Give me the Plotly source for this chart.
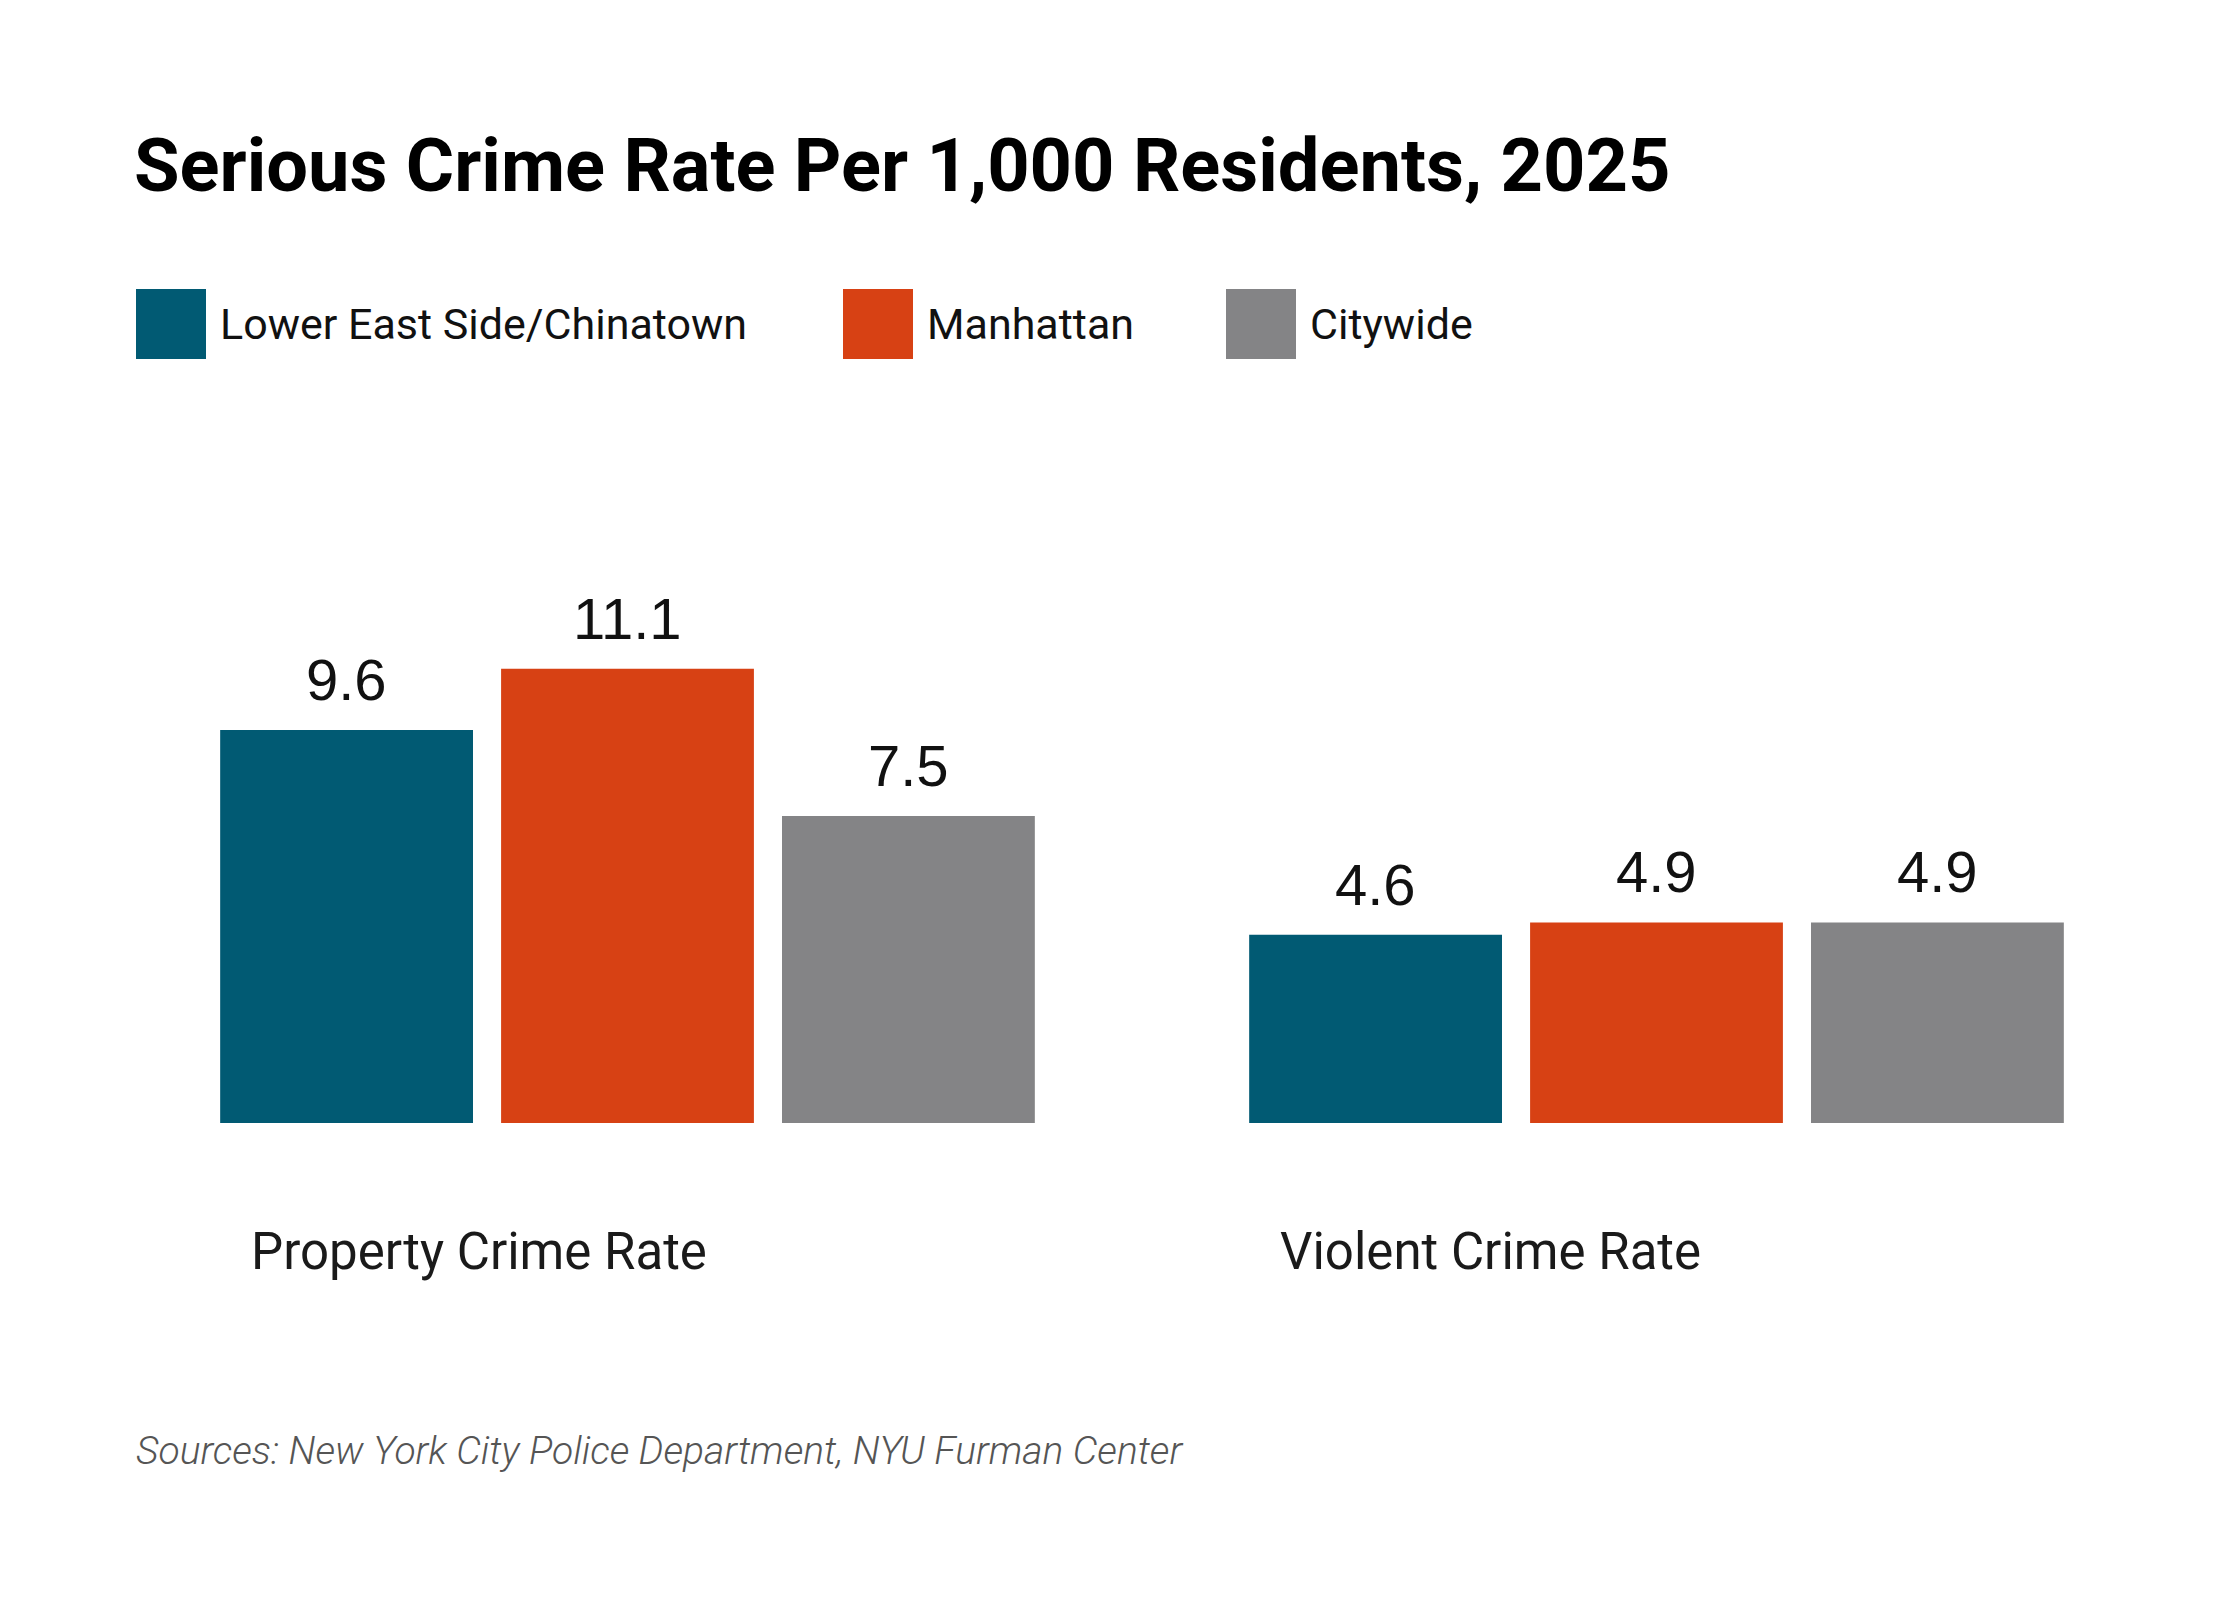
import plotly.graph_objects as go

# data
categories = ["Property Crime Rate", "Violent Crime Rate"]
areas = ["Lower East Side/Chinatown", "Manhattan", "Citywide"]
les_values = [9.6, 4.6]
manhattan_values = [11.1, 4.9]
citywide_values = [7.5, 4.9]

series = [les_values, manhattan_values, citywide_values]
colors = ["#015a73", "#d74114", "#848486"]

label_font = "Liberation Sans Narrow, Roboto, sans-serif"
value_font = "Liberation Sans, Arial, sans-serif"

W, H = 2240, 1600
OFF = 8  # page body margin shifts the figure
ml, mr, mt, mb = 113 - OFF, 69 + OFF, 550 - OFF, 477 + OFF
plot_w = W - ml - mr
plot_h = H - mt - mb


def px(x, y):
    # page pixel -> paper coords
    return (x - OFF - ml) / plot_w, (H - mb - (y - OFF)) / plot_h


fig = go.Figure()
for name, vals, col in zip(areas, series, colors):
    fig.add_trace(go.Bar(x=categories, y=vals, name=name, marker_color=col,
                         marker_line_width=0, showlegend=False, hoverinfo="skip"))

bargap = 0.181
groupgap = 0.1
# pixel offset between bars inside a group
pitch = plot_w / len(categories) * (1 - bargap) / len(areas)

annotations = []
for i, vals in enumerate(series):
    for cat, v in zip(categories, vals):
        annotations.append(dict(
            x=cat, y=v, xref="x", yref="y", text=f"{v}", showarrow=False,
            xshift=(i - 1) * pitch, yanchor="bottom", yshift=16,
            font=dict(family=value_font, size=58, color="#111111")))

# category labels, left aligned under each group
for cat in categories:
    annotations.append(dict(
        x=cat, y=0, xref="x", yref="paper", text=cat, showarrow=False,
        xanchor="left", xshift=-379, yanchor="middle", yshift=-128,
        font=dict(family=label_font, size=51, color="#1a1a1a")))

# legend drawn by hand so the swatches can be large
legend_x = [136, 843, 1226]
shapes = []
for name, col, lx in zip(areas, colors, legend_x):
    x0, y1 = px(lx, 289)
    x1, y0 = px(lx + 70, 359)
    shapes.append(dict(type="rect", xref="paper", yref="paper", x0=x0, x1=x1,
                       y0=y0, y1=y1, fillcolor=col, line_width=0))
    tx, ty = px(lx + 82, 324)
    annotations.append(dict(
        x=tx, y=ty, xref="paper", yref="paper",
        text=name, showarrow=False, xanchor="left", yanchor="middle",
        font=dict(family=label_font, size=43, color="#111111")))

sx, sy = px(134, 1451)
annotations.append(dict(
    x=sx, y=sy, xref="paper", yref="paper",
    text="<i>Sources: New York City Police Department, NYU Furman Center</i>",
    showarrow=False, xanchor="left", yanchor="middle",
    font=dict(family=label_font, size=39, color="#555555", weight=300)))

fig.update_layout(
    width=W, height=H,
    margin=dict(l=ml, r=mr, t=mt, b=mb),
    paper_bgcolor="white", plot_bgcolor="white",
    barmode="group", bargap=bargap, bargroupgap=groupgap,
    title=dict(text="<b>Serious Crime Rate Per 1,000 Residents, 2025</b>",
               x=(134 - OFF) / W, xanchor="left", y=1 - (165 - OFF) / H, yanchor="middle",
               xref="container", yref="container",
               font=dict(family=label_font, size=74, color="#000000")),
    xaxis=dict(showticklabels=False, showgrid=False, zeroline=False, showline=False,
               range=[-0.5, 1.5]),
    yaxis=dict(range=[0, 14], showticklabels=False, showgrid=False, zeroline=False,
               showline=False),
    annotations=annotations, shapes=shapes,
)

fig.write_html("out.html")
